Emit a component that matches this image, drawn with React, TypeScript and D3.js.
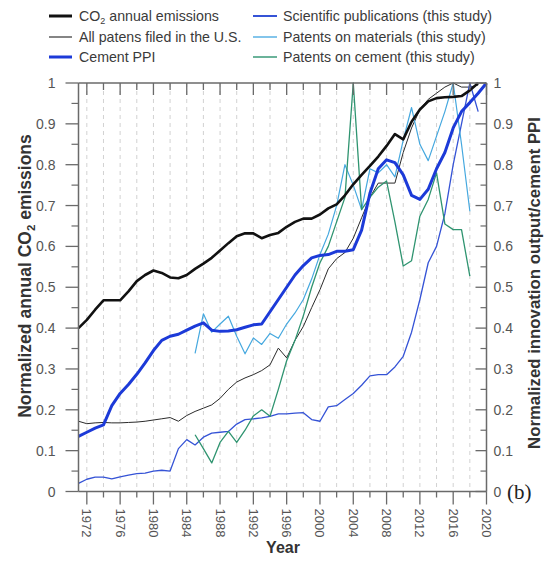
import React from "react";
import * as d3 from "d3";

// values, one per year from the series' start year
const co2Start = 1971;
const co2Values = [
  0.4, 0.42, 0.445, 0.468, 0.468, 0.468, 0.49, 0.515, 0.53, 0.541, 0.535, 0.524, 0.522, 0.53, 0.545,
  0.558, 0.572, 0.59, 0.608, 0.625, 0.632, 0.632, 0.62, 0.628, 0.633, 0.648, 0.66, 0.668, 0.668, 0.678,
  0.693, 0.703, 0.725, 0.752, 0.775, 0.797, 0.82, 0.846, 0.875, 0.862, 0.905, 0.935, 0.955, 0.963, 0.965,
  0.966, 0.968, 0.982, 1.0,
];

const patentsStart = 1971;
const patentsValues = [
  0.172, 0.166, 0.168, 0.169, 0.168, 0.168, 0.169, 0.17, 0.172, 0.175, 0.178, 0.181, 0.172, 0.186, 0.196,
  0.204, 0.212, 0.228, 0.25, 0.268, 0.278, 0.286, 0.296, 0.31, 0.351, 0.327, 0.37, 0.404, 0.45, 0.494,
  0.545, 0.57, 0.585, 0.62, 0.67, 0.72, 0.755, 0.755, 0.755, 0.83, 0.89, 0.935, 0.96, 0.975, 0.99, 1.0,
  0.99, 0.99, 0.995,
];

const ppiStart = 1971;
const ppiValues = [
  0.135, 0.145, 0.155, 0.163, 0.21, 0.24, 0.262, 0.287, 0.315, 0.345, 0.37, 0.38, 0.385, 0.395, 0.405,
  0.413, 0.395, 0.392, 0.393, 0.396, 0.402, 0.408, 0.41, 0.44, 0.47, 0.5, 0.53, 0.553, 0.572, 0.578, 0.58,
  0.588, 0.588, 0.592, 0.64, 0.73, 0.79, 0.812, 0.805, 0.775, 0.725, 0.715, 0.74, 0.79, 0.83, 0.89, 0.93,
  0.952, 0.975, 1.0,
];

const sciStart = 1971;
const sciValues = [
  0.02, 0.03, 0.035, 0.035, 0.031, 0.036, 0.04, 0.044, 0.045, 0.05, 0.052, 0.05, 0.105, 0.127, 0.114,
  0.133, 0.143, 0.145, 0.147, 0.165, 0.176, 0.178, 0.18, 0.184, 0.19, 0.19, 0.192, 0.193, 0.176, 0.172,
  0.207, 0.21, 0.225, 0.24, 0.26, 0.283, 0.286, 0.286, 0.305, 0.331, 0.39, 0.47, 0.56, 0.6, 0.68, 0.8,
  0.9, 1.0, 0.93,
];

const materialsStart = 1985;
const materialsValues = [
  0.338, 0.435, 0.39, 0.41, 0.429, 0.38, 0.337, 0.376, 0.36, 0.387, 0.375, 0.41, 0.437, 0.47, 0.52, 0.58,
  0.63, 0.7, 0.8, 0.75, 0.69, 0.79, 0.78, 0.8, 0.77, 0.86, 0.94, 0.85, 0.81, 0.87, 0.93, 1.0, 0.85, 0.686,
];

const cementStart = 1985;
const cementValues = [
  0.139, 0.105, 0.07, 0.12, 0.147, 0.12, 0.15, 0.185, 0.2, 0.184, 0.25, 0.32, 0.37, 0.43, 0.5, 0.56, 0.6,
  0.66, 0.72, 1.0, 0.69, 0.72, 0.745, 0.76, 0.66, 0.552, 0.565, 0.674, 0.715, 0.78, 0.655, 0.641, 0.641,
  0.527,
];

const xLabels = ["1972", "1976", "1980", "1984", "1988", "1992", "1996", "2000", "2004", "2008", "2012", "2016", "2020"];
const yLabels = ["0", "0.1", "0.2", "0.3", "0.4", "0.5", "0.6", "0.7", "0.8", "0.9", "1"];

const W = 547;
const H = 568;
const L = 78.5;
const R = 486.5;
const T = 83;
const B = 491.5;

const x = d3.scaleLinear().domain([1971, 2020]).range([L, R]);
const y = d3.scaleLinear().domain([0, 1]).range([B, T]);

const toPts = (start: number, vals: number[]) => vals.map((v, i) => [start + i, v] as [number, number]);
const line = d3
  .line<[number, number]>()
  .x((d) => x(d[0]))
  .y((d) => y(d[1]));

const series = [
  { key: "patents", start: patentsStart, values: patentsValues, color: "#2b2b2b", width: 1 },
  { key: "sci", start: sciStart, values: sciValues, color: "#3553d6", width: 1.3 },
  { key: "materials", start: materialsStart, values: materialsValues, color: "#45a8df", width: 1.2 },
  { key: "cement", start: cementStart, values: cementValues, color: "#2f9470", width: 1.3 },
  { key: "ppi", start: ppiStart, values: ppiValues, color: "#1c3ad8", width: 3 },
  { key: "co2", start: co2Start, values: co2Values, color: "#111111", width: 2.6 },
];

const axisColor = "#6a6a6a";
const textColor = "#555";
const font = "Liberation Sans, Arial, sans-serif";

export default function App() {
  const minorX = d3.range(1972, 2021, 2);
  const majorY = d3.range(0, 11).map((i) => i / 10);
  const minorY = d3.range(0, 10).map((i) => i / 10 + 0.05);

  const legendLeft = [
    { label: ["CO", "2", " annual emissions"], color: "#111", width: 3 },
    { label: ["All patens filed in the U.S."], color: "#333", width: 1.2 },
    { label: ["Cement PPI"], color: "#1c3ad8", width: 3 },
  ];
  const legendRight = [
    { label: "Scientific publications (this study)", color: "#3553d6", width: 2 },
    { label: "Patents on materials (this study)", color: "#5ab2e4", width: 1.5 },
    { label: "Patents on cement (this study)", color: "#3a9a78", width: 1.5 },
  ];
  const rowY = [16, 37, 57];

  return (
    <svg width={W} height={H} style={{ position: "absolute", left: 0, top: 0, background: "#fff" }} fontFamily={font}>
      {/* legend */}
      {legendLeft.map((d, i) => (
        <g key={"ll" + i}>
          <line x1={49} x2={72} y1={rowY[i]} y2={rowY[i]} stroke={d.color} strokeWidth={d.width} />
          <text x={79} y={rowY[i] + 5} fontSize={14.2} fill="#3a3a3a">
            {d.label[0]}
            {d.label.length > 1 && (
              <>
                <tspan fontSize={9} dy={3}>
                  {d.label[1]}
                </tspan>
                <tspan dy={-3}>{d.label[2]}</tspan>
              </>
            )}
          </text>
        </g>
      ))}
      {legendRight.map((d, i) => (
        <g key={"lr" + i}>
          <line x1={253} x2={277} y1={rowY[i]} y2={rowY[i]} stroke={d.color} strokeWidth={d.width} />
          <text x={283} y={rowY[i] + 5} fontSize={14.2} fill="#3a3a3a">
            {d.label}
          </text>
        </g>
      ))}

      {/* dashed verticals */}
      {minorX.slice(0, -1).map((yr) => (
        <line key={"g" + yr} x1={x(yr)} x2={x(yr)} y1={T} y2={B} stroke="#d2d2d2" strokeWidth={1} strokeDasharray="4,4" />
      ))}

      {/* series */}
      {series.map((s) => (
        <path
          key={s.key}
          d={line(toPts(s.start, s.values)) || ""}
          fill="none"
          stroke={s.color}
          strokeWidth={s.width}
          strokeLinejoin="round"
        />
      ))}

      {/* frame */}
      <line x1={L} x2={R} y1={T} y2={T} stroke={axisColor} strokeWidth={1.5} />
      <line x1={L} x2={R} y1={B} y2={B} stroke={axisColor} strokeWidth={1.5} />
      <line x1={L} x2={L} y1={T} y2={B} stroke={axisColor} strokeWidth={1.5} />
      <line x1={R} x2={R} y1={T} y2={B} stroke={axisColor} strokeWidth={1.5} />

      {/* x ticks top (inward) and bottom (outward) */}
      {minorX.map((yr) => {
        const major = (yr - 1972) % 4 === 0;
        return (
          <g key={"xt" + yr}>
            <line x1={x(yr)} x2={x(yr)} y1={T} y2={T + (major ? 12 : 7)} stroke={axisColor} strokeWidth={1.3} />
            <line x1={x(yr)} x2={x(yr)} y1={B} y2={B + (major ? 13 : 6)} stroke={axisColor} strokeWidth={1.3} />
          </g>
        );
      })}
      {xLabels.map((lab) => (
        <text
          key={"xl" + lab}
          transform={`translate(${x(+lab) - 4.5},${B + 17}) rotate(90)`}
          fontSize={13}
          fill={textColor}
        >
          {lab}
        </text>
      ))}
      <text x={283} y={553} textAnchor="middle" fontSize={16} fontWeight="bold" fill="#333">
        Year
      </text>

      {/* y ticks */}
      {majorY.map((v, i) => (
        <g key={"ym" + i}>
          <line x1={L - 13} x2={L} y1={y(v)} y2={y(v)} stroke={axisColor} strokeWidth={1.3} />
          <line x1={R - 11} x2={R} y1={y(v)} y2={y(v)} stroke={axisColor} strokeWidth={1.3} />
          <text x={L - 23} y={y(v) + 5} textAnchor="end" fontSize={14} fill={textColor}>
            {yLabels[i]}
          </text>
          <text x={R + 7} y={y(v) + 5} fontSize={14} fill={textColor}>
            {yLabels[i]}
          </text>
        </g>
      ))}
      {minorY.map((v, i) => (
        <g key={"yn" + i}>
          <line x1={L - 7} x2={L} y1={y(v)} y2={y(v)} stroke={axisColor} strokeWidth={1.2} />
          <line x1={R - 6} x2={R} y1={y(v)} y2={y(v)} stroke={axisColor} strokeWidth={1.2} />
        </g>
      ))}

      {/* axis titles */}
      <text transform="translate(31,276) rotate(-90)" textAnchor="middle" fontSize={17.5} fontWeight="bold" fill="#333">
        Normalized annual CO
        <tspan fontSize={11.5} dy={4}>
          2
        </tspan>
        <tspan dy={-4}> emissions</tspan>
      </text>
      <text transform="translate(540,283) rotate(-90)" textAnchor="middle" fontSize={16.8} fontWeight="bold" fill="#333">
        Normalized innovation output/cement PPI
      </text>
      <text x={507} y={499} fontSize={21} fontFamily="Liberation Serif, Times New Roman, serif" fill="#222">
        (b)
      </text>
    </svg>
  );
}
